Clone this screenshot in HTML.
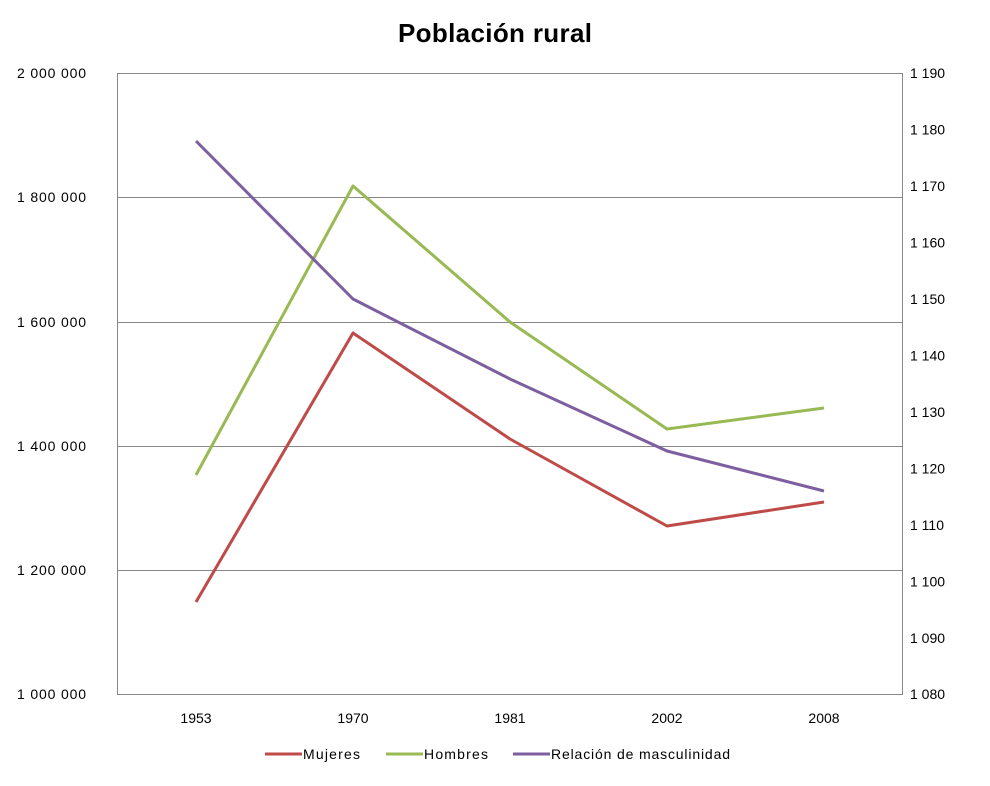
<!DOCTYPE html>
<html><head><style>body{margin:0;background:#fff}</style></head><body>
<svg width="990" height="781" xmlns="http://www.w3.org/2000/svg" font-family="Liberation Sans, sans-serif">
<rect width="990" height="781" fill="#fff"/>
<text x="495" y="42" text-anchor="middle" font-size="26" font-weight="bold" textLength="194">Población rural</text>
<g stroke="#878787" stroke-width="1">
<line x1="117" y1="73.5" x2="903" y2="73.5"/>
<line x1="117" y1="197.5" x2="903" y2="197.5"/>
<line x1="117" y1="322.5" x2="903" y2="322.5"/>
<line x1="117" y1="446.5" x2="903" y2="446.5"/>
<line x1="117" y1="570.5" x2="903" y2="570.5"/>
<line x1="117" y1="694.5" x2="903" y2="694.5"/>
<line x1="117.5" y1="73" x2="117.5" y2="695"/>
<line x1="902.5" y1="73" x2="902.5" y2="695"/>
</g>
<g font-size="14" fill="#000">
<text x="17" y="78" textLength="69">2 000 000</text>
<text x="17" y="202" textLength="69">1 800 000</text>
<text x="17" y="327" textLength="69">1 600 000</text>
<text x="17" y="451" textLength="69">1 400 000</text>
<text x="17" y="575" textLength="69">1 200 000</text>
<text x="17" y="699" textLength="69">1 000 000</text>
</g>
<g font-size="14" fill="#000">
<text x="910" y="78">1 190</text><text x="910" y="134.5">1 180</text><text x="910" y="191">1 170</text>
<text x="910" y="247.5">1 160</text><text x="910" y="304">1 150</text><text x="910" y="360.5">1 140</text>
<text x="910" y="417">1 130</text><text x="910" y="473.5">1 120</text><text x="910" y="530">1 110</text>
<text x="910" y="586.5">1 100</text><text x="910" y="643">1 090</text><text x="910" y="699">1 080</text>
</g>
<g font-size="14" text-anchor="middle">
<text x="196" y="723">1953</text><text x="353" y="723">1970</text><text x="510" y="723">1981</text><text x="667" y="723">2002</text><text x="824" y="723">2008</text>
</g>
<g fill="none" stroke-width="3" stroke-linejoin="round">
<polyline stroke="#be4b48" points="196,602 353,333 510,439 667,526 824,502"/>
<polyline stroke="#98b954" points="196,475 353,186 510,322 667,429 824,408"/>
<polyline stroke="#7d5fa0" points="196,141 353,299 510,379 667,451 824,491"/>
</g>
<g font-size="14">
<line x1="265" y1="754" x2="302" y2="754" stroke="#be4b48" stroke-width="3"/><text x="303" y="759" textLength="57">Mujeres</text>
<line x1="386" y1="754" x2="423" y2="754" stroke="#98b954" stroke-width="3"/><text x="424" y="759" textLength="64">Hombres</text>
<line x1="513" y1="754" x2="550" y2="754" stroke="#7d5fa0" stroke-width="3"/><text x="551" y="759" textLength="179">Relación de masculinidad</text>
</g>
</svg>
</body></html>
